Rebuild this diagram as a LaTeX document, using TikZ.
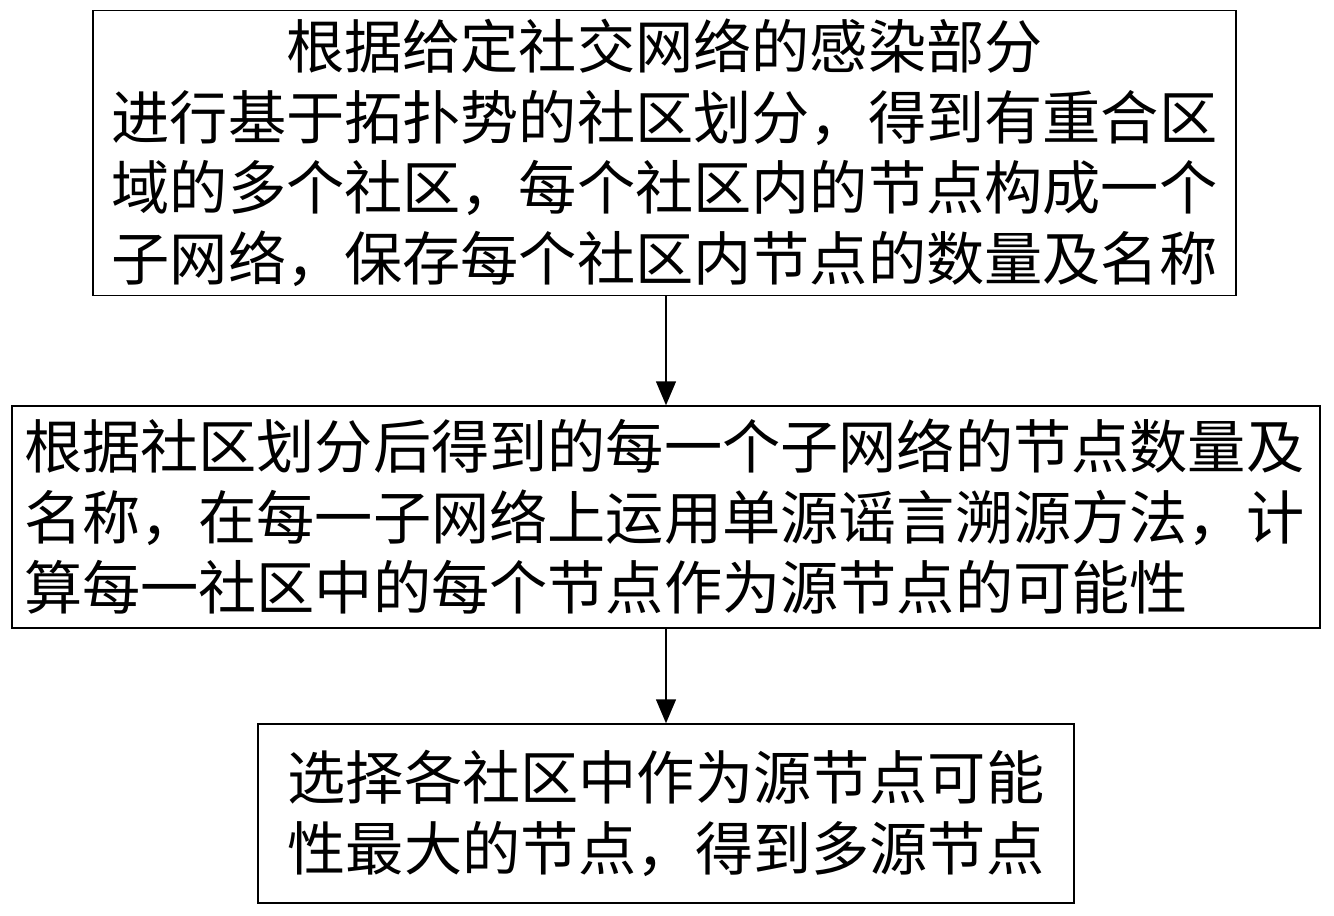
\documentclass[tikz,border=0pt]{standalone}
\usepackage{fontspec}
\newfontfamily\cjk{Noto Sans CJK SC}
\usetikzlibrary{arrows.meta}
\tikzset{
  flowbox/.style={draw=black, line width=1.5pt, inner sep=0pt, font=\cjk\fontsize{58.2pt}{70.5pt}\selectfont},
  flowarrow/.style={line width=1.5pt, -{Triangle[length=24pt,width=20pt]}}
}
\begin{document}
\begin{tikzpicture}[x=1pt,y=-1pt]
\useasboundingbox (0,0) rectangle (1334,916);
\fill[white] (0,0) rectangle (1334,916);
\node[flowbox, minimum width=1143pt, minimum height=285pt, align=center] (b1) at (664.5,153)
  {根据给定社交网络的感染部分\\进行基于拓扑势的社区划分，得到有重合区\\域的多个社区，每个社区内的节点构成一个\\子网络，保存每个社区内节点的数量及名称};
\node[flowbox, minimum width=1308pt, minimum height=222pt, text width=1284pt, align=left] (b2) at (666,517)
  {根据社区划分后得到的每一个子网络的节点数量及\\名称，在每一子网络上运用单源谣言溯源方法，计\\算每一社区中的每个节点作为源节点的可能性};
\node[flowbox, minimum width=816pt, minimum height=179pt, align=center] (b3) at (666,813.5)
  {选择各社区中作为源节点可能\\性最大的节点，得到多源节点};
\draw[flowarrow] (b1.south -| 666,0) -- (b2.north -| 666,0);
\draw[flowarrow] (b2.south) -- (b3.north);
\end{tikzpicture}
\end{document}
